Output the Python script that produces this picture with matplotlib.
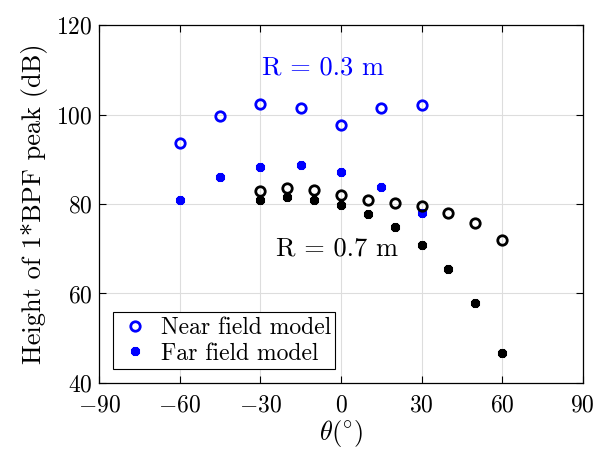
import matplotlib
matplotlib.use("Agg")
import matplotlib.pyplot as plt

# ── Data ──
theta_03 = [-60, -45, -30, -15, 0, 15, 30]
near_03 = [93.6, 99.6, 102.3, 101.4, 97.6, 101.4, 102.1]
far_03 = [81.0, 86.0, 88.3, 88.8, 87.2, 83.8, 78.1]

theta_07 = [-30, -20, -10, 0, 10, 20, 30, 40, 50, 60]
near_07 = [83.0, 83.6, 83.1, 82.1, 81.0, 80.3, 79.6, 78.0, 75.8, 72.0]
far_07 = [81.0, 81.5, 81.0, 79.7, 77.8, 74.9, 70.9, 65.4, 57.9, 46.6]

xticks = [-90, -60, -30, 0, 30, 60, 90]
yticks = [40, 60, 80, 100, 120]

plt.rcParams["font.family"] = "serif"
plt.rcParams["font.serif"] = ["cmr10"]
plt.rcParams["mathtext.fontset"] = "cm"
plt.rcParams["axes.formatter.use_mathtext"] = True

fig = plt.figure(figsize=(5.95, 4.54), dpi=100)
ax = fig.add_axes([0.1669, 0.1564, 0.8124, 0.7885])

circ = dict(marker="o", linestyle="none", markersize=6.8, markerfacecolor="none",
            markeredgewidth=2.0)
star = dict(marker=(8, 2, 0), linestyle="none", markersize=6.5, markeredgewidth=2.6)

ax.plot(theta_03, near_03, color="#0000ff", label="Near field model", **circ)
ax.plot(theta_03, far_03, color="#0000ff", label="Far field model", **star)
ax.plot(theta_07, near_07, color="black", **circ)
ax.plot(theta_07, far_07, color="black", **star)

ax.text(-6.7, 110.4, "R = 0.3 m", color="#0000ff", fontsize=19, ha="center", va="center")
ax.text(-1.6, 70.1, "R = 0.7 m", color="black", fontsize=19, ha="center", va="center")

ax.set_xlim(-90, 90)
ax.set_ylim(40, 120)
ax.set_xticks(xticks)
ax.set_yticks(yticks)
ax.tick_params(direction="in", top=True, right=True, labelsize=17, length=5, width=0.8)
ax.tick_params(axis="x", pad=8)
ax.tick_params(axis="y", pad=5)
ax.grid(True, color="#dddddd", linewidth=0.8)
ax.set_axisbelow(True)
for s in ax.spines.values():
    s.set_linewidth(0.9)

ax.set_xlabel(r"$\theta(^{\circ})$", fontsize=19, labelpad=1)
ax.set_ylabel("Height of 1*BPF peak (dB)", fontsize=19, labelpad=6)

leg = ax.legend(loc="lower left", fontsize=17, fancybox=False, framealpha=1,
                edgecolor="black", borderpad=0.2, handletextpad=0.4,
                bbox_to_anchor=(0.029, 0.038), handlelength=1.4, labelspacing=0.15,
                borderaxespad=0)
leg.get_frame().set_linewidth(0.8)

fig.savefig("out.png", dpi=100)
